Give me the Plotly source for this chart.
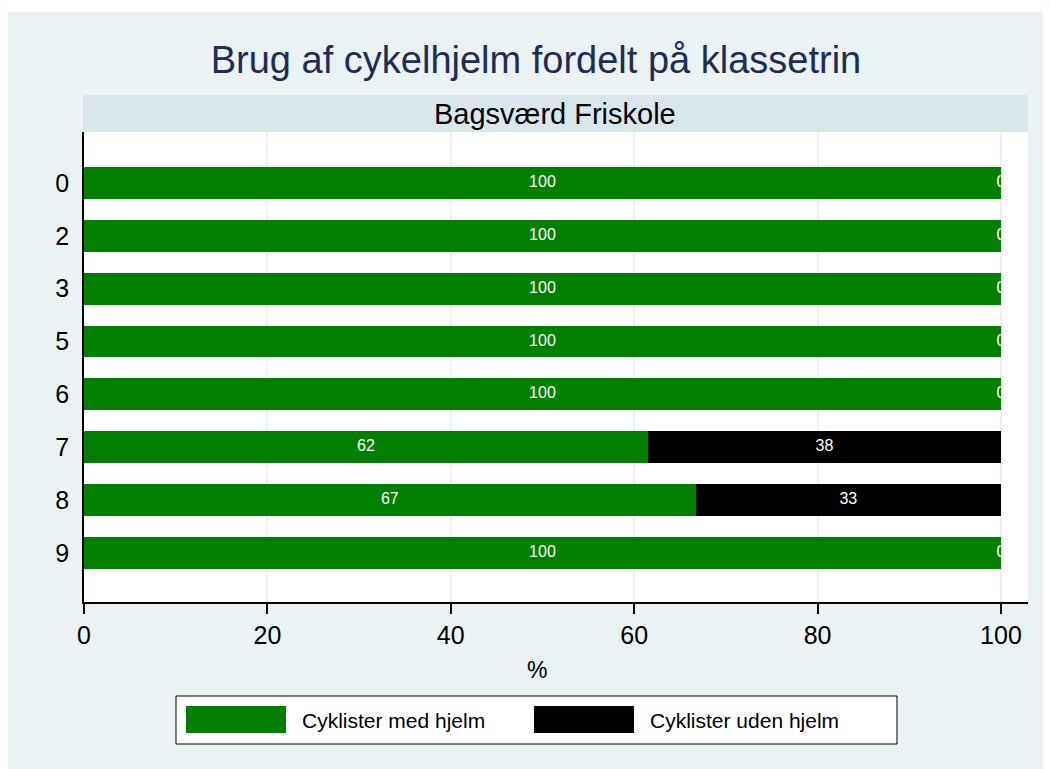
import plotly.graph_objects as go

grades = ["0", "2", "3", "5", "6", "7", "8", "9"]
med_hjelm = [100, 100, 100, 100, 100, 62, 67, 100]
uden_hjelm = [0, 0, 0, 0, 0, 38, 33, 0]
med_exact = [100, 100, 100, 100, 100, 61.5, 66.7, 100]
uden_exact = [0, 0, 0, 0, 0, 38.5, 33.3, 0]

title = "Brug af cykelhjelm fordelt på klassetrin"
subtitle = "Bagsværd Friskole"
series_names = ["Cyklister med hjelm", "Cyklister uden hjelm"]
colors = ["#007F00", "#000000"]

OFF = 8  # page body margin
SW, SH = 1051, 769
W, H = SW - OFF, SH - OFF
PL, PR, PT, PB = 84, 1028, 132, 602  # plot area in screen pixels
L, R, T, B = PL - OFF, SW - PR, PT - OFF, SH - PB
pw, ph = PR - PL, PB - PT


def px(x):
    return (x - PL) / pw


def py(y):
    return (PB - y) / ph


fig = go.Figure()
fig.add_trace(go.Bar(y=grades, x=med_exact, orientation="h", marker_color=colors[0],
                     marker_line_width=0, width=0.6, name=series_names[0], showlegend=False,
                     hoverinfo="x+y"))
fig.add_trace(go.Bar(y=grades, x=uden_exact, orientation="h", marker_color=colors[1],
                     marker_line_width=0, width=0.6, name=series_names[1], showlegend=False,
                     hoverinfo="x+y"))

lab_x, lab_y, lab_t = [], [], []
for g, a, b, ae, be in zip(grades, med_hjelm, uden_hjelm, med_exact, uden_exact):
    lab_x += [ae / 2, ae + be / 2]
    lab_y += [g, g]
    lab_t += [str(a), str(b)]
fig.add_trace(go.Scatter(x=lab_x, y=lab_y, text=lab_t, mode="text",
                         textfont=dict(color="white", size=16, family="Liberation Sans, Arial"),
                         showlegend=False, hoverinfo="skip", cliponaxis=False))

shapes = []
shapes.append(dict(type="rect", xref="paper", yref="paper", x0=px(0), x1=px(SW), y0=py(0), y1=py(12),
                   fillcolor="white", line_width=0, layer="below"))
shapes.append(dict(type="rect", xref="paper", yref="paper", x0=px(83), x1=px(1028), y0=py(132), y1=py(95),
                   fillcolor="#D9E6EB", line_width=0))
shapes.append(dict(type="rect", xref="paper", yref="paper", x0=px(176), x1=px(897), y0=py(744), y1=py(696),
                   fillcolor="white", line=dict(color="black", width=1)))
shapes.append(dict(type="rect", xref="paper", yref="paper", x0=px(186), x1=px(286), y0=py(733), y1=py(706),
                   fillcolor=colors[0], line_width=0))
shapes.append(dict(type="rect", xref="paper", yref="paper", x0=px(534), x1=px(634), y0=py(733), y1=py(706),
                   fillcolor=colors[1], line_width=0))

font = "Liberation Sans, Arial, sans-serif"
annotations = [
    dict(text=subtitle, xref="paper", yref="paper", x=px(555), y=py(114), showarrow=False,
         font=dict(size=29, color="black", family=font), xanchor="center", yanchor="middle"),
    dict(text=series_names[0], xref="paper", yref="paper", x=px(300), y=py(720), showarrow=False,
         font=dict(size=21, color="black", family=font), xanchor="left", yanchor="middle"),
    dict(text=series_names[1], xref="paper", yref="paper", x=px(648), y=py(720), showarrow=False,
         font=dict(size=21, color="black", family=font), xanchor="left", yanchor="middle"),
    dict(text="%", xref="paper", yref="paper", x=px(537), y=py(670), showarrow=False,
         font=dict(size=23, color="black", family=font), xanchor="center", yanchor="middle"),
]

fig.update_layout(
    width=W, height=H,
    margin=dict(l=L, r=R, t=T, b=B, autoexpand=False),
    paper_bgcolor="#EAF2F3",
    plot_bgcolor="white",
    barmode="stack",
    title=dict(text=title, x=px(536), xref="paper", xanchor="center", y=1 - (60 - OFF) / H,
               yanchor="middle", font=dict(size=38, color="#1F2D55", family=font)),
    xaxis=dict(range=[0, 102.95], tickvals=[0, 20, 40, 60, 80, 100], showgrid=True,
               gridcolor="#EAF2F3", gridwidth=2, zeroline=False, showline=True, linecolor="black",
               linewidth=1.5, ticks="outside", ticklen=10, tickcolor="black", tickwidth=1.5,
               tickfont=dict(size=25, color="black", family=font)),
    yaxis=dict(categoryorder="array", categoryarray=grades, range=[7.93, -0.965], showgrid=False,
               zeroline=False, showline=True, linecolor="black", linewidth=1.5, ticks="",
               ticklabelstandoff=8,
               tickfont=dict(size=25, color="black", family=font)),
    shapes=shapes,
    annotations=annotations,
    showlegend=False,
)

fig.write_html("out.html")
